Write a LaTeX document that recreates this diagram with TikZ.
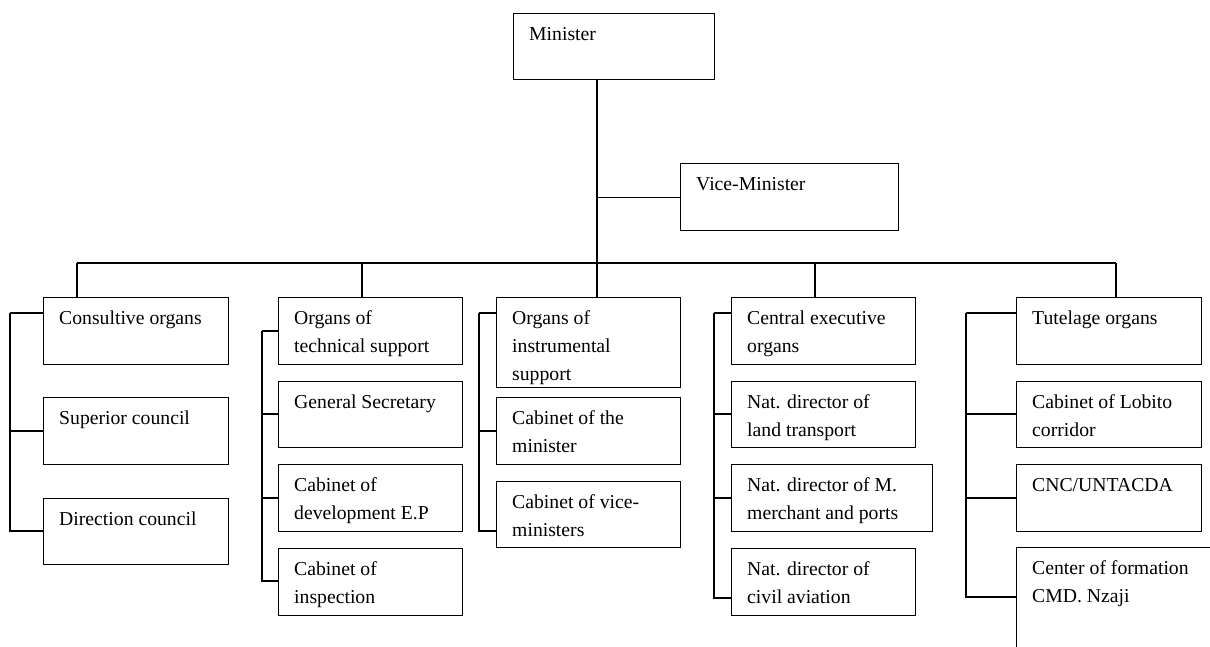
\documentclass[tikz,border=0pt]{standalone}
\usepackage{fontspec}
\setmainfont{Liberation Serif}
\usetikzlibrary{calc}

\tikzset{
  orgbox/.style={draw, line width=1.2pt, inner sep=0pt, rectangle},
  orgtext/.style={inner sep=0pt, font=\fontsize{19.7}{28}\selectfont},
  link/.style={line width=1.2pt},
}

% name, left, top, width, height, text
\newcommand\orgunit[6]{%
  \node[orgbox, minimum width=#4, minimum height=#5, anchor=north west] (#1) at (#2,#3) {};
  \node[orgtext, anchor=base west] (#1-t) at ([xshift=16pt,yshift=-27.5pt]#1.north west)
    {\parbox[t]{230pt}{\raggedright #6}};
}

\begin{document}
\begin{tikzpicture}[x=1pt, y=-1pt]
\useasboundingbox (0,0) rectangle (1210,646);
\clip (0,0) rectangle (1210,646);

% top level
\orgunit{mini}{513}{13}{201}{66}{Minister}
\orgunit{vice}{680}{163}{218}{67}{Vice-Minister}

% column 1
\orgunit{cons}{43}{297}{185}{67}{Consultive organs}
\orgunit{sup}{43}{397}{185}{67}{Superior council}
\orgunit{dir}{43}{498}{185}{66}{Direction council}

% column 2
\orgunit{tech}{278}{297}{184}{67}{Organs of\\technical support}
\orgunit{gen}{278}{381}{184}{66}{General Secretary}
\orgunit{dev}{278}{464}{184}{67}{Cabinet of\\development E.P}
\orgunit{insp}{278}{548}{184}{67}{Cabinet of\\inspection}

% column 3
\orgunit{instr}{496}{297}{184}{90}{Organs of\\instrumental\\support}
\orgunit{cmin}{496}{397}{184}{67}{Cabinet of the\\minister}
\orgunit{cvice}{496}{481}{184}{66}{Cabinet of vice-\\ministers}

% column 4
\orgunit{cent}{731}{297}{184}{67}{Central executive\\organs}
\orgunit{land}{731}{381}{184}{66}{Nat. director of\\land transport}
\orgunit{port}{731}{464}{201}{67}{Nat. director of M.\\merchant and ports}
\orgunit{avia}{731}{548}{184}{67}{Nat. director of\\civil aviation}

% column 5
\orgunit{tut}{1016}{297}{185}{67}{Tutelage organs}
\orgunit{lob}{1016}{381}{185}{66}{Cabinet of Lobito\\corridor}
\orgunit{cnc}{1016}{464}{185}{67}{CNC/UNTACDA}
\orgunit{form}{1016}{547}{210}{120}{Center of formation\\CMD. Nzaji}

% trunk and main bus
\coordinate (b1) at (77,263);
\coordinate (b2) at (362,263);
\coordinate (b3) at (597,263);
\coordinate (b4) at (815,263);
\coordinate (b5) at (1116,263);
\draw[link] (mini.south -| b3) -- (b3);
\draw[link] (vice.west -| b3) -- (vice.west);
\draw[link] (b1) -- (b5);
\draw[link] (b1) -- (b1 |- cons.north);
\draw[link] (b2) -- (b2 |- tech.north);
\draw[link] (b3) -- (b3 |- instr.north);
\draw[link] (b4) -- (b4 |- cent.north);
\draw[link] (b5) -- (b5 |- tut.north);

% side rails
\coordinate (r1) at (10,313);
\draw[link] (r1) -- ($(cons.north west)+(0,16)$);
\draw[link] (r1) |- ($(sup.north west)+(0,34)$);
\draw[link] (r1) |- ($(dir.north west)+(0,33)$);

\coordinate (r2) at (262,331);
\draw[link] (r2) -- ($(tech.north west)+(0,34)$);
\draw[link] (r2) |- ($(gen.north west)+(0,33)$);
\draw[link] (r2) |- ($(dev.north west)+(0,34)$);
\draw[link] (r2) |- ($(insp.north west)+(0,33)$);

\coordinate (r3) at (479,313);
\draw[link] (r3) -- ($(instr.north west)+(0,16)$);
\draw[link] (r3) |- ($(cmin.north west)+(0,34)$);
\draw[link] (r3) |- ($(cvice.north west)+(0,50)$);

\coordinate (r4) at (714,313);
\draw[link] (r4) -- ($(cent.north west)+(0,16)$);
\draw[link] (r4) |- ($(land.north west)+(0,33)$);
\draw[link] (r4) |- ($(port.north west)+(0,34)$);
\draw[link] (r4) |- ($(avia.north west)+(0,50)$);

\coordinate (r5) at (966,313);
\draw[link] (r5) -- ($(tut.north west)+(0,16)$);
\draw[link] (r5) |- ($(lob.north west)+(0,33)$);
\draw[link] (r5) |- ($(cnc.north west)+(0,34)$);
\draw[link] (r5) |- ($(form.north west)+(0,50)$);
\end{tikzpicture}
\end{document}
